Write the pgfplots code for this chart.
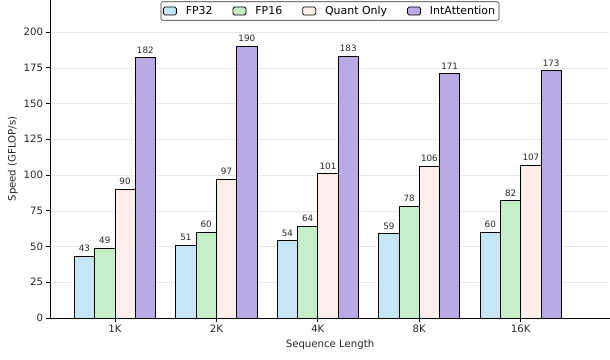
\documentclass[border=0pt]{standalone}
\usepackage{fontspec}
\setmainfont{DejaVu Sans}
\usepackage{pgfplots}
\pgfplotsset{compat=1.18}
\definecolor{cfpA}{HTML}{C5E4F4}
\definecolor{cfpB}{HTML}{C4EFC9}
\definecolor{cquant}{HTML}{FDEEE9}
\definecolor{cint}{HTML}{B9A9E6}
\definecolor{gridc}{HTML}{E2E2E2}
\newcommand{\legent}[1]{\mbox{}\hspace*{7bp}#1\hspace*{18bp}\mbox{}}
\begin{document}
\begin{tikzpicture}
\begin{axis}[
  at={(0,0)}, anchor=south west,
  scale only axis, width=560bp, height=318bp,
  xmin=-0.64, xmax=4.88, ymin=0, ymax=222.4,
  axis x line*=bottom, axis y line*=left,
  axis line style={black, line width=0.8bp},
  ytick={0,25,...,200},
  xtick={0,1,2,3,4},
  xticklabels={1K,2K,4K,8K,16K},
  tick align=outside, major tick length=3.5bp,
  tick style={black, line width=0.8bp},
  ymajorgrids, grid style={dash pattern=on 2.5bp off 1.5bp, gridc, line width=0.5bp},
  /pgf/number format/assume math mode=true,
  tick label style={font=\fontsize{10.2}{12}\selectfont, text=black!85},
  label style={font=\fontsize{10.2}{12}\selectfont, text=black!85},
  xlabel={Sequence Length},
  ylabel={Speed (GFLOP/s)},
  xlabel style={yshift=0bp},
  ylabel style={yshift=-1bp},
  ybar, bar width=0.2, bar shift=0pt,
  every axis plot/.append style={draw=black, line width=0.8bp},
  nodes near coords,
  every node near coord/.append style={font=\fontsize{8.8}{10}\selectfont, text=black!85, anchor=south, inner sep=0pt, yshift=4bp},
  legend style={at={(0.5,1)}, anchor=north, yshift=-1.5bp, legend columns=4, draw=black!80, rounded corners=1.5bp, line width=0.6bp, font=\fontsize{11}{13}\selectfont, inner xsep=2bp, inner ysep=2.3bp},
  legend image code/.code={\draw[#1, line width=0.8bp] (0bp,-4bp) rectangle (13bp,4bp);},
]
\addplot[fill=cfpA] coordinates {(-0.3,43) (0.7,51) (1.7,54) (2.7,59) (3.7,60)};
\addplot[fill=cfpB] coordinates {(-0.1,49) (0.9,60) (1.9,64) (2.9,78) (3.9,82)};
\addplot[fill=cquant] coordinates {(0.1,90) (1.1,97) (2.1,101) (3.1,106) (4.1,107)};
\addplot[fill=cint] coordinates {(0.3,182) (1.3,190) (2.3,183) (3.3,171) (4.3,173)};
\legend{\legent{FP32},\legent{FP16},\legent{Quant Only},\mbox{}\hspace*{7bp}IntAttention}
\end{axis}
\pgfresetboundingbox
\path[use as bounding box] (-50bp,-42bp) rectangle (560bp,318bp);
\end{tikzpicture}
\end{document}
